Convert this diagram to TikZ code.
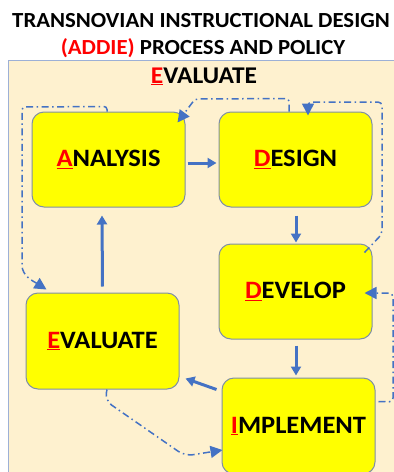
\documentclass[tikz,border=0pt]{standalone}
\usepackage{fontspec}
\setmainfont{Carlito}[FakeStretch=1.06]
\usetikzlibrary{arrows.meta,calc}
\definecolor{beige}{HTML}{FEF1CF}
\definecolor{panelline}{HTML}{9DB0D6}
\definecolor{boxline}{HTML}{7F8FA6}
\definecolor{arrblue}{HTML}{4472C4}
\definecolor{boxyellow}{HTML}{FFFF00}
\newcommand{\fl}[1]{\textcolor{red}{\underline{#1}}}
\begin{document}
\begin{tikzpicture}[x=1pt,y=-1pt,
 stagebox/.style={draw=boxline, line width=1pt, fill=boxyellow, rounded corners=12pt, minimum width=153pt, minimum height=95pt, inner sep=0pt, font=\fontsize{25}{29}\selectfont\bfseries},
 flow/.style={draw=arrblue, line width=3pt, -{Triangle[length=9pt,width=10pt]}},
 loopline/.style={draw=arrblue, line width=1.5pt, dash pattern=on 7pt off 3.5pt on 1.5pt off 3.5pt, -{Triangle[length=12pt,width=12pt]}},
]
\useasboundingbox (0,0) rectangle (394,472);
\clip (0,0) rectangle (394,472);
\fill[white] (0,0) rectangle (394,472);
\draw[fill=beige, draw=panelline, line width=1pt] (8,60) rectangle (410,490);

\node[anchor=base, inner sep=0pt] (t1) at (201,27) {\fontsize{21.5}{24}\selectfont\bfseries TRANSNOVIAN INSTRUCTIONAL DESIGN};
\node[anchor=base, inner sep=0pt] (t2) at (203,54) {\fontsize{21.5}{24}\selectfont\bfseries\textcolor{red}{(ADDIE)} PROCESS AND POLICY};
\node[anchor=base, inner sep=0pt] (hd) at (204,83) {\fontsize{24}{27}\selectfont\bfseries\fl{E}VALUATE};

\node[stagebox] (A) at (108.5,159.5) {\fl{A}NALYSIS};
\node[stagebox] (D) at (295.5,159.5) {\fl{D}ESIGN};
\node[stagebox] (DV) at (295.5,291.5) {\fl{D}EVELOP};
\node[stagebox, minimum height=96pt] (E) at (102.5,341) {\fl{E}VALUATE};
\node[stagebox, minimum height=96pt] (I) at (298.5,426) {\fl{I}MPLEMENT};

% solid flow arrows
\draw[flow, shorten <=2pt, shorten >=2pt] ([yshift=-3.5pt]A.east) -- ([yshift=-3.5pt]D.west);
\draw[flow, shorten <=8pt, shorten >=1pt] ($(D.south)+(0.5,0)$) -- ($(DV.north)+(0.5,0)$);
\draw[flow] ($(DV.south)+(0.5,6)$) -- ($(DV.south)+(0.5,36)$);
\draw[flow] ($(I.north west)+(-5,12)$) -- ($(E.south east)+(6,-11)$);
\draw[flow] ($(E.north)+(0,-6)$) -- ($(A.south)+(-6.5,8)$);

% dash-dot loops
\coordinate (l1) at (22,107);
\coordinate (l2) at (22,262);
\draw[loopline, rounded corners=3pt] ($(A.north)+(-1.5,0)$) -- ++(0,-5) -- (l1) -- (l2) .. controls (22,276) and (33,281) .. ($(E.north west)+(21,-3)$);

\coordinate (u1) at (195,99);
\draw[loopline, rounded corners=3pt] ($(D.north)+(-6.5,0)$) -- ++(0,-13) -- (u1) -- ($(A.north east)+(-8,11)$);

\coordinate (r1) at (382,234);
\coordinate (r2) at (382,102);
\coordinate (r3) at (308,102);
\draw[loopline, rounded corners=4pt] ($(DV.north east)+(-8,9)$) -- (r1) -- (r2) -- (r3) -- ($(D.north)+(12.5,4)$);

\coordinate (s1) at (393,402);
\coordinate (s2) at (393,293);
\draw[loopline, rounded corners=4pt] ($(I.north east)+(3,24)$) -- (s1) -- (s2) -- ($(DV.east)+(-8,1.5)$);

\coordinate (b1) at (185,456);
\draw[loopline, rounded corners=8pt] ($(E.south)+(4.5,0)$) -- ++(-2,11) -- (b1) -- ($(I.west)+(1,24)$);
\end{tikzpicture}
\end{document}
